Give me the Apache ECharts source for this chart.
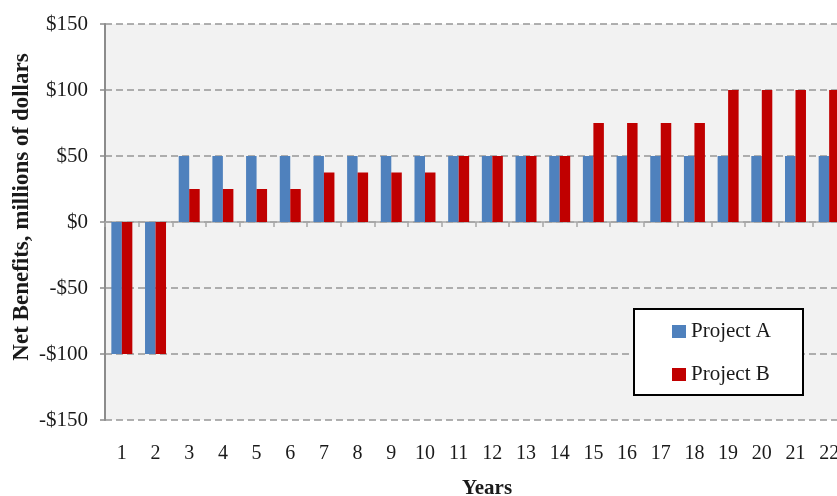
<!DOCTYPE html>
<html>
<head>
<meta charset="utf-8">
<script src="https://cdn.jsdelivr.net/npm/echarts@6/dist/echarts.min.js"></script>
<style>
  html, body { margin: 0; padding: 0; background: #ffffff; }
  #chart { width: 837px; height: 496px; }
</style>
</head>
<body>
<div id="chart"></div>
<script>
// Year of the project life
const years = ['1','2','3','4','5','6','7','8','9','10','11','12','13','14','15','16','17','18','19','20','21','22'];
// Net benefits per year, millions of dollars
const projectA = [-100,-100,50,50,50,50,50,50,50,50,50,50,50,50,50,50,50,50,50,50,50,50];
const projectB = [-100,-100,25,25,25,25,37.5,37.5,37.5,37.5,50,50,50,50,75,75,75,75,100,100,100,100];
// Value axis ticks
const yTicks = [-150,-100,-50,0,50,100,150];

const FONT = '"Liberation Serif", "DejaVu Serif", serif';
const INK = '#1a1a1a';
const chart = echarts.init(document.getElementById('chart'), null, { renderer: 'canvas' });

function money(v) {
  return v < 0 ? '-$' + Math.abs(v) : '$' + v;
}

chart.setOption({
  animation: false,
  backgroundColor: '#ffffff',
  textStyle: { fontFamily: FONT },
  grid: {
    left: 105, top: 24, bottom: 76, width: 741,
    show: true, backgroundColor: '#f2f2f2', borderWidth: 0,
    containLabel: false, outerBoundsMode: 'none'
  },
  legend: {
    data: ['Project A', 'Project B'],
    orient: 'vertical',
    left: 672, top: 321,
    itemWidth: 14, itemHeight: 13, itemGap: 22,
    icon: 'rect',
    padding: 0,
    z: 10,
    textStyle: { fontFamily: FONT, fontSize: 21, color: INK }
  },
  xAxis: [
    {
      type: 'category', data: years, position: 'bottom',
      axisLine: { show: false, onZero: false },
      axisTick: { show: false },
      axisLabel: { fontFamily: FONT, fontSize: 20, color: INK, margin: 24 },
      splitLine: { show: false }
    },
    {
      type: 'category', data: years, position: 'top',
      axisLine: { show: true, onZero: true, lineStyle: { color: '#a6a6a6', width: 1.5 } },
      axisTick: { show: true, inside: true, length: 5, lineStyle: { color: '#a6a6a6', width: 1.5 } },
      axisLabel: { show: false },
      splitLine: { show: false }
    }
  ],
  yAxis: {
    type: 'value',
    min: yTicks[0], max: yTicks[yTicks.length - 1], interval: 50,
    axisLine: { show: true, lineStyle: { color: '#8c8c8c', width: 2 } },
    axisTick: { show: true, length: 5, lineStyle: { color: '#8c8c8c', width: 1.5 } },
    axisLabel: { fontFamily: FONT, fontSize: 21, color: INK, margin: 17, formatter: money },
    splitLine: { show: true, lineStyle: { color: '#979797', width: 1.5, type: [7, 4] } }
  },
  series: [
    {
      name: 'Project A', type: 'bar', xAxisIndex: 0, data: projectA,
      barWidth: 10.5, barGap: '0%',
      itemStyle: { color: '#4f81bd' }
    },
    {
      name: 'Project B', type: 'bar', xAxisIndex: 0, data: projectB,
      barWidth: 10.5, barGap: '0%',
      itemStyle: { color: '#c00000' }
    }
  ],
  graphic: [
    {
      type: 'rect', z: 5,
      shape: { x: 634, y: 309, width: 169, height: 86 },
      style: { fill: '#ffffff', stroke: '#000000', lineWidth: 2 }
    },
    {
      type: 'text', z: 5,
      x: 487, y: 489,
      style: {
        text: 'Years', fill: INK,
        font: 'bold 21px ' + FONT,
        align: 'center', verticalAlign: 'middle'
      }
    },
    {
      type: 'text', z: 5,
      x: 22, y: 207, rotation: Math.PI / 2,
      style: {
        text: 'Net Benefits, millions of dollars', fill: INK,
        font: 'bold 23px ' + FONT,
        align: 'center', verticalAlign: 'middle'
      }
    }
  ]
});
</script>
</body>
</html>
